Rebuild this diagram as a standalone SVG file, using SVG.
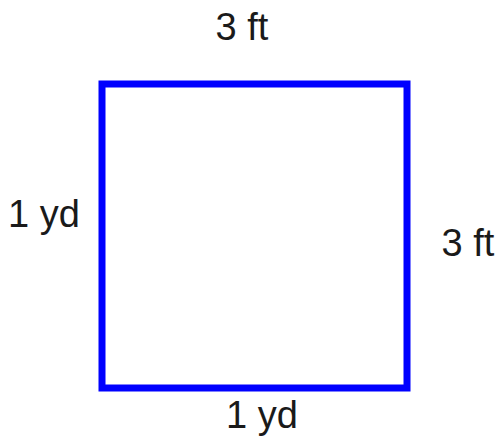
<svg xmlns="http://www.w3.org/2000/svg" width="497" height="438" viewBox="0 0 497 438">
<style>
.lbl{font-family:"Liberation Sans",Arial,sans-serif;font-size:38px;fill:#1a1a1a}
.sq{fill:#ffffff;stroke:#0000ff;stroke-width:7}
</style>
<rect width="497" height="438" fill="#ffffff"/>
<g id="square"><rect class="sq" x="102" y="84" width="305" height="304"/></g>
<g id="connectors"></g>
<g id="label-top"><text class="lbl" x="215.5" y="40">3 ft</text></g>
<g id="label-left"><text class="lbl" x="8" y="227">1 yd</text></g>
<g id="label-right"><text class="lbl" x="441.5" y="256">3 ft</text></g>
<g id="label-bottom"><text class="lbl" x="226" y="428">1 yd</text></g>
</svg>
